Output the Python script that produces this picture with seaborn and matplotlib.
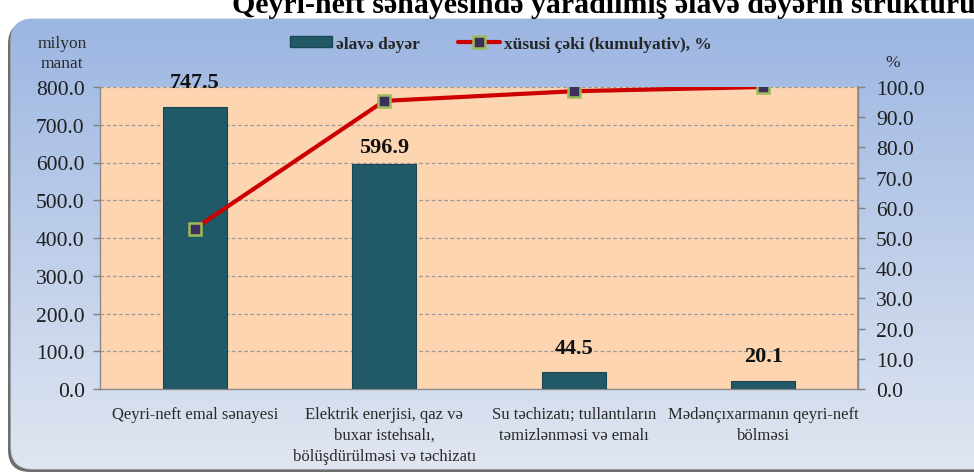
import numpy as np
import pandas as pd
import matplotlib
matplotlib.use("Agg")
import matplotlib.pyplot as plt
from matplotlib.patches import FancyBboxPatch, Patch
from matplotlib.lines import Line2D
import seaborn as sns

# Data
categories = [
    "Qeyri-neft emal sənayesi",
    "Elektrik enerjisi, qaz və\nbuxar istehsalı,\nbölüşdürülməsi və təchizatı",
    "Su təchizatı; tullantıların\ntəmizlənməsi və emalı",
    "Mədənçıxarmanın qeyri-neft\nbölməsi",
]
added_value = [747.5, 596.9, 44.5, 20.1]          # milyon manat
cumulative_share = [53.1, 95.4, 98.6, 100.0]      # %
left_ticks = [0, 100, 200, 300, 400, 500, 600, 700, 800]
right_ticks = [0, 10, 20, 30, 40, 50, 60, 70, 80, 90, 100]

sns.set_theme(style="white")
plt.rcParams["font.family"] = ["Liberation Serif", "DejaVu Serif"]

W, H = 974, 477
fig = plt.figure(figsize=(W / 100, H / 100), dpi=100)
fig.patch.set_facecolor("white")

# Rounded gradient panel behind the chart
bg = fig.add_axes([0, 0, 1, 1], zorder=-5)
bg.set_xlim(0, W)
bg.set_ylim(H, 0)
bg.axis("off")
shadow = FancyBboxPatch((8, 23), 1000, 450, boxstyle="round,pad=0,rounding_size=22",
                        facecolor="#6e6e6e", edgecolor="none")
bg.add_patch(shadow)
panel = FancyBboxPatch((11, 20), 1000, 450, boxstyle="round,pad=0,rounding_size=22",
                       facecolor="none", edgecolor="#b8c4d8", linewidth=0.8)
bg.add_patch(panel)
grad = np.linspace(0, 1, 256).reshape(-1, 1)
top_c = np.array([0x9c, 0xb6, 0xe2]) / 255
bot_c = np.array([0xe0, 0xe6, 0xf1]) / 255
img = top_c[None, None, :] * (1 - grad[..., None]) + bot_c[None, None, :] * grad[..., None]
im = bg.imshow(img, extent=(11, 1011, 470, 20), aspect="auto", zorder=1)
im.set_clip_path(panel)

# Title, running off the top edge of the figure
fig.text(232 / W, 1 - 13 / H, "Qeyri-neft sənayesində yaradılmış əlavə dəyərin strukturu",
         fontsize=21.5, fontweight="bold", ha="left", va="baseline", color="black")

# Main axes
ax = fig.add_axes([100 / W, 1 - 390 / H, (858 - 100) / W, (390 - 88) / H])
ax.set_facecolor("#fdd5b1")
df = pd.DataFrame({"category": categories, "value": added_value})
sns.barplot(data=df, x="category", y="value", color="#215a67", width=0.34,
            edgecolor="#1b4752", linewidth=0.8, saturation=1, ax=ax, zorder=3)
ax.set_xlim(-0.5, 3.5)
ax.set_ylim(0, 800)
ax.set_yticks(left_ticks)
ax.set_yticklabels([f"{v:.1f}" for v in left_ticks], fontsize=15.5, color="#1e1e1e")
ax.set_xlabel("")
ax.set_ylabel("")
ax.set_xticks(range(len(categories)))
ax.set_xticklabels(categories, fontsize=12, color="#2a2a2a", linespacing=1.45)
ax.set_xticks([-0.5, 0.5, 1.5, 2.5, 3.5], minor=True)
ax.tick_params(axis="x", which="major", length=0, pad=12)
ax.tick_params(axis="x", which="minor", length=5, color="#808080", width=1)
ax.tick_params(axis="y", length=5, color="#808080", width=1, left=True, pad=6)
for y in left_ticks[1:]:
    ax.axhline(y, color="#9a9a9a", linestyle=(0, (3, 2)), linewidth=0.9, zorder=1)
ax.spines["top"].set_visible(False)
for side in ["left", "bottom", "right"]:
    ax.spines[side].set_visible(True)
    ax.spines[side].set_color("#8a8a8a")
    ax.spines[side].set_linewidth(1)

# Value labels above the bars
label_offsets = [18, 12, 17.5, 18]
for i, (v, off) in enumerate(zip(added_value, label_offsets)):
    ax.annotate(f"{v:.1f}", (i, v), xytext=(0, off), textcoords="offset points",
                ha="center", va="center", fontsize=16, fontweight="bold", color="#111111", zorder=6)

# Cumulative share line on secondary axis
ax2 = ax.twinx()
ax2.set_ylim(0, 100)
sns.lineplot(x=list(range(len(categories))), y=cumulative_share, ax=ax2, color="#cc0000",
             linewidth=3, marker="s", markersize=8.5, markerfacecolor="#3c2f5e",
             markeredgecolor="#9bbb59", markeredgewidth=1.8, sort=False, zorder=5)
ax2.set_yticks(right_ticks)
ax2.set_yticklabels([f"{v:.1f}" for v in right_ticks], fontsize=15.5, color="#1e1e1e")
ax2.tick_params(axis="y", length=5, color="#808080", width=1, right=True, pad=8)
ax2.set_ylabel("")
for side in ["top", "left", "bottom"]:
    ax2.spines[side].set_visible(False)
ax2.spines["right"].set_color("#8a8a8a")

# Axis unit captions
fig.text(62 / W, 1 - 54 / H, "milyon\nmanat", fontsize=12.5, ha="center", va="center",
         color="#2a2a2a", linespacing=1.3)
fig.text(893 / W, 1 - 63 / H, "%", fontsize=12.5, ha="center", va="center", color="#2a2a2a")

# Legend
handles = [
    Patch(facecolor="#215a67", edgecolor="#1b4752", label="əlavə dəyər"),
    Line2D([0], [0], color="#cc0000", linewidth=3, marker="s", markersize=8,
           markerfacecolor="#3c2f5e", markeredgecolor="#9bbb59", markeredgewidth=1.8,
           label="xüsusi çəki (kumulyativ), %"),
]
fig.legend(handles=handles, loc="center", bbox_to_anchor=(501 / W, 1 - 45 / H), ncol=2,
           frameon=False, prop={"weight": "bold", "size": 12.5}, handlelength=2.4,
           handleheight=0.6, columnspacing=2.2, handletextpad=0.25)

fig.savefig("out.png", dpi=100)
